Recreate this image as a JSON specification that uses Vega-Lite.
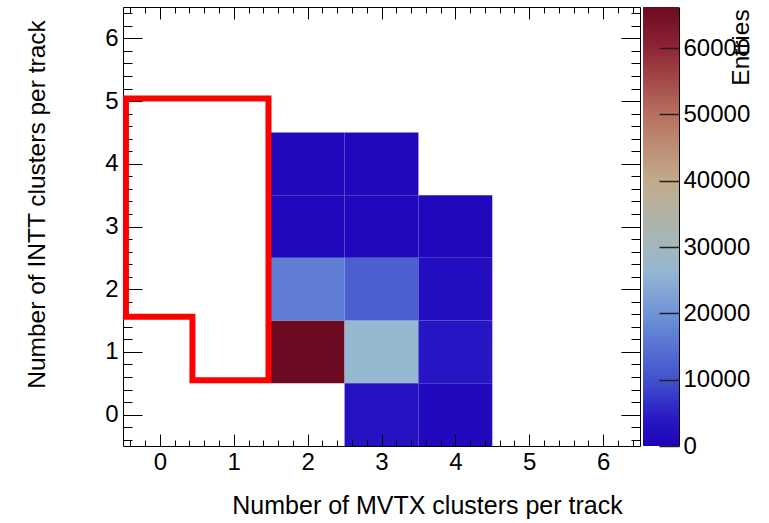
{
  "$schema": "https://vega.github.io/schema/vega-lite/v6.json",
  "autosize": {"type": "none"},
  "padding": {"left": 123, "top": 7, "right": 0, "bottom": 77},
  "params": [
    {"name": "width", "value": 646},
    {"name": "height", "value": 439}
  ],
  "background": "white",
  "bounds": "flush",
  "spacing": 3,
  "config": {
    "font": "Liberation Sans",
    "view": {"stroke": null},
    "axis": {
      "domainColor": "black",
      "domainWidth": 1,
      "tickColor": "black",
      "tickWidth": 1,
      "labelColor": "black",
      "labelFontSize": 24,
      "labelFont": "Liberation Sans",
      "titleColor": "black",
      "titleFontSize": 24.5,
      "titleFontWeight": "normal",
      "titleFont": "Liberation Sans",
      "grid": false
    }
  },
  "datasets": {
    "bins": [
      {"mvtx": 2, "intt": 1, "entries": 66000},
      {"mvtx": 3, "intt": 1, "entries": 26500},
      {"mvtx": 4, "intt": 1, "entries": 3600},
      {"mvtx": 2, "intt": 2, "entries": 16500},
      {"mvtx": 3, "intt": 2, "entries": 12000},
      {"mvtx": 4, "intt": 2, "entries": 2300},
      {"mvtx": 3, "intt": 0, "entries": 3000},
      {"mvtx": 4, "intt": 0, "entries": 1400},
      {"mvtx": 2, "intt": 3, "entries": 1000},
      {"mvtx": 3, "intt": 3, "entries": 1000},
      {"mvtx": 4, "intt": 3, "entries": 1000},
      {"mvtx": 2, "intt": 4, "entries": 1000},
      {"mvtx": 3, "intt": 4, "entries": 1000}
    ],
    "outline": [
      {"step": 0, "px": -0.46, "py": 1.56},
      {"step": 1, "px": -0.46, "py": 5.04},
      {"step": 2, "px": 1.47, "py": 5.04},
      {"step": 3, "px": 1.47, "py": 0.55},
      {"step": 4, "px": 0.44, "py": 0.55},
      {"step": 5, "px": 0.44, "py": 1.56},
      {"step": 6, "px": -0.46, "py": 1.56}
    ],
    "bar": [{"lo": 0, "hi": 66200}]
  },
  "hconcat": [
    {
      "width": 517,
      "height": 439,
      "layer": [
        {
          "data": {"name": "bins"},
          "transform": [
            {"calculate": "datum.mvtx - 0.5", "as": "x0"},
            {"calculate": "datum.mvtx + 0.5", "as": "x1"},
            {"calculate": "datum.intt - 0.5", "as": "y0"},
            {"calculate": "datum.intt + 0.5", "as": "y1"}
          ],
          "mark": {"type": "rect", "strokeWidth": 0},
          "encoding": {
            "x": {
              "field": "x0", "type": "quantitative",
              "scale": {"domain": [-0.5, 6.5], "nice": false, "zero": false},
              "axis": {
                "orient": "bottom",
                "zindex": 1,
                "values": [-0.4,-0.2,0,0.2,0.4,0.6,0.8,1,1.2,1.4,1.6,1.8,2,2.2,2.4,2.6,2.8,3,3.2,3.4,3.6,3.8,4,4.2,4.4,4.6,4.8,5,5.2,5.4,5.6,5.8,6,6.2,6.4],
                "tickSize": {"condition": {"test": "datum.value % 1 === 0", "value": -12}, "value": -6},
                "labelExpr": "datum.value % 1 === 0 ? format(datum.value, 'd') : ''",
                "labelPadding": 16,
                "labelFlush": false,
                "labelOverlap": false,
                "title": "Number of MVTX clusters per track",
                "titleX": 304,
                "titleY": 59,
                "titleFontSize": 25,
                "titleAlign": "center",
                "titleBaseline": "middle"
              }
            },
            "x2": {"field": "x1"},
            "y": {
              "field": "y0", "type": "quantitative",
              "scale": {"domain": [-0.5, 6.5], "nice": false, "zero": false},
              "axis": {
                "orient": "left",
                "values": [-0.4,-0.2,0,0.2,0.4,0.6,0.8,1,1.2,1.4,1.6,1.8,2,2.2,2.4,2.6,2.8,3,3.2,3.4,3.6,3.8,4,4.2,4.4,4.6,4.8,5,5.2,5.4,5.6,5.8,6,6.2,6.4],
                "tickSize": {"condition": {"test": "datum.value % 1 === 0", "value": -19}, "value": -9},
                "labelExpr": "datum.value % 1 === 0 ? format(datum.value, 'd') : ''",
                "labelPadding": 24,
                "labelFlush": false,
                "labelOverlap": false,
                "title": "Number of INTT clusters per track",
                "titleX": -86,
                "titleY": 197,
                "titleAngle": 270,
                "titleAlign": "center",
                "titleBaseline": "middle"
              }
            },
            "y2": {"field": "y1"},
            "color": {
              "field": "entries", "type": "quantitative",
              "legend": null,
              "scale": {
                "domain": [0, 1000, 4000, 10000, 17000, 20000, 26500, 30000, 40000, 50000, 60000, 66200],
                "range": ["#1e00b4", "#2008bc", "#2818c4", "#4252cb", "#6080d4", "#7094d8", "#95b7d0", "#a2b8bc", "#c2ab8c", "#b8705e", "#8f2535", "#6b0a20"],
                "interpolate": "rgb"
              }
            }
          }
        },
        {
          "data": {"name": "outline"},
          "mark": {"type": "line", "color": "#ff0000", "strokeWidth": 6, "strokeJoin": "miter", "strokeCap": "square"},
          "encoding": {
            "x": {
              "field": "px", "type": "quantitative",
              "axis": {
                "orient": "top",
                "values": [-0.4,-0.2,0,0.2,0.4,0.6,0.8,1,1.2,1.4,1.6,1.8,2,2.2,2.4,2.6,2.8,3,3.2,3.4,3.6,3.8,4,4.2,4.4,4.6,4.8,5,5.2,5.4,5.6,5.8,6,6.2,6.4],
                "tickSize": {"condition": {"test": "datum.value % 1 === 0", "value": -12}, "value": -6},
                "labels": false,
                "title": null
              }
            },
            "y": {
              "field": "py", "type": "quantitative",
              "axis": {
                "orient": "right",
                "values": [-0.4,-0.2,0,0.2,0.4,0.6,0.8,1,1.2,1.4,1.6,1.8,2,2.2,2.4,2.6,2.8,3,3.2,3.4,3.6,3.8,4,4.2,4.4,4.6,4.8,5,5.2,5.4,5.6,5.8,6,6.2,6.4],
                "tickSize": {"condition": {"test": "datum.value % 1 === 0", "value": -19}, "value": -9},
                "labels": false,
                "title": null
              }
            },
            "order": {"field": "step", "type": "quantitative"}
          }
        }
      ],
      "resolve": {"axis": {"x": "independent", "y": "independent"}}
    },
    {
      "width": 36,
      "height": 439,
      "data": {"name": "bar"},
      "mark": {
        "type": "rect",
        "fill": {
          "gradient": "linear", "x1": 0, "y1": 1, "x2": 0, "y2": 0,
          "stops": [
            {"offset": 0, "color": "#1e00b4"},
            {"offset": 0.0151, "color": "#2008bc"},
            {"offset": 0.0604, "color": "#2818c4"},
            {"offset": 0.151, "color": "#4252cb"},
            {"offset": 0.2568, "color": "#6080d4"},
            {"offset": 0.3021, "color": "#7094d8"},
            {"offset": 0.4003, "color": "#95b7d0"},
            {"offset": 0.4532, "color": "#a2b8bc"},
            {"offset": 0.6042, "color": "#c2ab8c"},
            {"offset": 0.7553, "color": "#b8705e"},
            {"offset": 0.9063, "color": "#8f2535"},
            {"offset": 1, "color": "#6b0a20"}
          ]
        }
      },
      "encoding": {
        "y": {
          "field": "lo", "type": "quantitative",
          "scale": {"domain": [0, 66200], "nice": false},
          "axis": {
            "orient": "right",
            "zindex": 1,
            "values": [0, 10000, 20000, 30000, 40000, 50000, 60000],
            "format": "d",
            "tickSize": -20,
            "tickColor": "#202020",
            "tickWidth": 1.5,
            "labelPadding": 24,
            "labelFlush": false,
            "labelOverlap": false,
            "title": "Entries",
            "titleX": 62,
            "titleY": 40,
            "titleAngle": 270,
            "titleAlign": "center",
            "titleBaseline": "middle"
          }
        },
        "y2": {"field": "hi"}
      }
    }
  ]
}
